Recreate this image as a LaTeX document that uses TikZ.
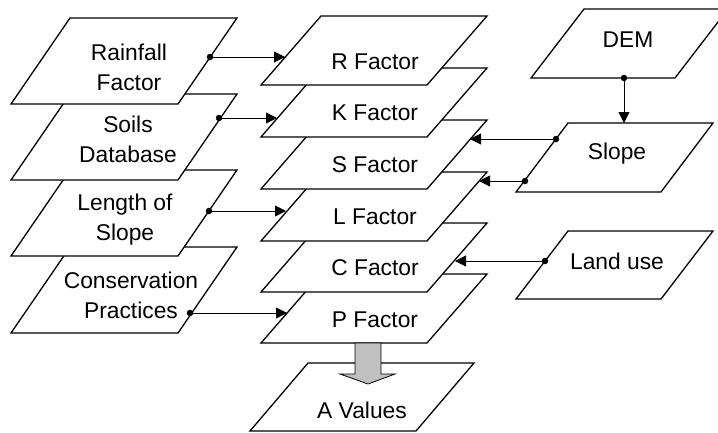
\documentclass[tikz,border=0pt]{standalone}
\usepackage{fontspec}
\setmainfont{Liberation Sans}
\usetikzlibrary{arrows.meta}
\definecolor{arrowgray}{RGB}{192,192,192}
\begin{document}
\begin{tikzpicture}[x=1pt,y=-1pt,
  box/.style={draw=black,fill=white,line width=1.3pt,line join=miter},
  lab/.style={font=\fontsize{22.8}{30}\selectfont,align=center,inner sep=0pt},
  conn/.style={line width=0.8pt,-{Triangle[length=11pt,width=11pt]}},
  dotmark/.style={circle,fill=black,inner sep=0pt,minimum size=6.5pt},
  bigarrow/.style={draw=black,line width=0.8pt,fill=arrowgray,line join=miter}]
\useasboundingbox (0,0) rectangle (718,432);

% ---------- left column (lower ones first) ----------
\draw[box] (70,247) -- (237,247) -- (178,333) -- (11,333) -- cycle;
\node[lab] (cons) at (131,295) {Conservation\\Practices};
\draw[box] (70,170) -- (237,170) -- (178,256) -- (11,256) -- cycle;
\node[lab] (len) at (125,220) {Length of\\Slope};
\draw[box] (70,94) -- (237,94) -- (178,180) -- (11,180) -- cycle;
\node[lab] (soil) at (128,139) {Soils\\Database};
\draw[box] (70,18) -- (237,18) -- (178,104) -- (11,104) -- cycle;
\node[lab] (rain) at (129,67) {Rainfall\\Factor};

% ---------- middle column ----------
\draw[box] (308,363) -- (474,363) -- (416,431) -- (250,431) -- cycle;
\node[lab] (aval) at (362,410) {A Values};
\draw[box] (321,274) -- (487,274) -- (427,343) -- (261,343) -- cycle;
\node[lab] (pf) at (375,320) {P Factor};
\draw[box] (321,223) -- (487,223) -- (427,292) -- (261,292) -- cycle;
\node[lab] (cf) at (375,268) {C Factor};
\draw[box] (321,172) -- (487,172) -- (427,241) -- (261,241) -- cycle;
\node[lab] (lf) at (375,217) {L Factor};
\draw[box] (321,120) -- (487,120) -- (427,189) -- (261,189) -- cycle;
\node[lab] (sf) at (375,165) {S Factor};
\draw[box] (321,68) -- (487,68) -- (427,137) -- (261,137) -- cycle;
\node[lab] (kf) at (375,113) {K Factor};
\draw[box] (321,16) -- (487,16) -- (427,85) -- (261,85) -- cycle;
\node[lab] (rf) at (375,62) {R Factor};

% ---------- right column ----------
\draw[box] (584,9) -- (728,9) -- (675,78) -- (531,78) -- cycle;
\node[lab] (dem) at (628,40) {DEM};
\draw[box] (568,123) -- (713,123) -- (661,192) -- (516,192) -- cycle;
\node[lab] (slope) at (617,154) {Slope};
\draw[box] (568,231) -- (713,231) -- (661,299) -- (516,299) -- cycle;
\node[lab] (land) at (617,261) {Land use};

% ---------- connector end points ----------
\coordinate (rainOut) at (210,57);
\coordinate (rfIn) at (285,57);
\coordinate (soilOut) at (219,118);
\coordinate (kfIn) at (277,118);
\coordinate (lenOut) at (209,211);
\coordinate (lfIn) at (286,211);
\coordinate (consOut) at (190,313);
\coordinate (pfIn) at (287,313);
\coordinate (demOut) at (624,78);
\coordinate (slopeIn) at (624,123);
\coordinate (slopeOutA) at (556,139);
\coordinate (sfIn) at (470,139);
\coordinate (slopeOutB) at (525,181);
\coordinate (lfInR) at (479,181);
\coordinate (landOut) at (545,261);
\coordinate (cfIn) at (455,261);

\draw[conn] (rainOut) -- (rfIn);
\draw[conn] (soilOut) -- (kfIn);
\draw[conn] (lenOut) -- (lfIn);
\draw[conn] (consOut) -- (pfIn);
\draw[conn] (demOut) -- (slopeIn);
\draw[conn] (slopeOutA) -- (sfIn);
\draw[conn] (slopeOutB) -- (lfInR);
\draw[conn] (landOut) -- (cfIn);

\foreach \p in {rainOut,soilOut,lenOut,consOut,demOut,slopeOutA,slopeOutB,landOut}
  \node[dotmark] at (\p) {};

% ---------- big arrow P -> A ----------
\draw[bigarrow] (355,343) -- (381,343) -- (381,374) -- (395,374) -- (368,384)
  -- (340,374) -- (355,374) -- cycle;
\end{tikzpicture}
\end{document}
